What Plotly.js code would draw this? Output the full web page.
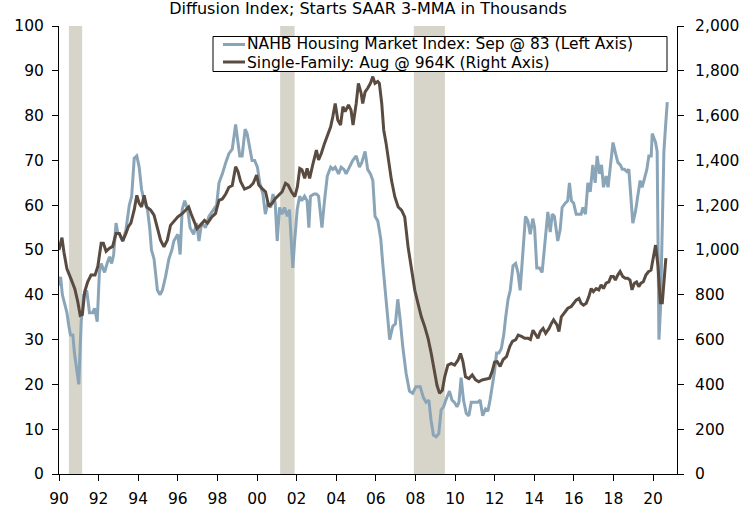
<!DOCTYPE html>
<html>
<head>
<meta charset="utf-8">
<script src="https://cdn.plot.ly/plotly-3.0.1.min.js"></script>
<style>
html,body{margin:0;padding:0;background:#fff;}
#chart{width:755px;height:508px;}
</style>
</head>
<body>
<div id="chart"></div>
<script>
// ---- DATA ----
// NAHB Housing Market Index (left axis), decimal-year positions
const nahbX = [1990.00,1990.08,1990.17,1990.30,1990.40,1990.50,1990.58,1990.70,1990.78,1990.92,1991.00,1991.12,1991.25,1991.40,1991.54,1991.70,1991.80,1991.93,
1992.04,1992.13,1992.30,1992.43,1992.55,1992.66,1992.76,1992.88,1992.96,1993.05,1993.22,1993.38,1993.55,1993.67,1993.80,1993.93,
1994.05,1994.17,1994.30,1994.47,1994.58,1994.67,1994.80,1994.97,1995.10,1995.22,1995.38,1995.55,1995.70,1995.80,
1996.00,1996.12,1996.22,1996.35,1996.50,1996.62,1996.80,1996.95,1997.07,1997.20,1997.40,1997.57,1997.80,1997.96,
1998.08,1998.25,1998.42,1998.58,1998.75,1998.92,1999.04,1999.13,1999.25,1999.40,1999.50,1999.63,1999.75,1999.88,
2000.02,2000.14,2000.30,2000.42,2000.55,2000.69,2000.81,2000.92,2001.02,2001.14,2001.26,2001.39,2001.53,2001.64,2001.81,2001.90,
2002.03,2002.15,2002.26,2002.40,2002.53,2002.62,2002.70,2002.88,2003.00,2003.11,2003.28,2003.41,2003.55,2003.72,2003.83,2003.95,
2004.12,2004.25,2004.39,2004.50,2004.67,2004.84,2005.01,2005.17,2005.29,2005.46,2005.59,2005.73,2005.85,2005.96,
2006.10,2006.25,2006.35,2006.44,2006.52,2006.61,2006.70,2006.86,2006.99,2007.11,2007.23,2007.36,2007.53,2007.70,2007.86,
2008.03,2008.24,2008.41,2008.54,2008.68,2008.79,2008.91,2009.05,2009.18,2009.30,2009.42,2009.58,2009.72,2009.85,2009.97,
2010.10,2010.20,2010.31,2010.43,2010.57,2010.70,2010.82,2010.98,2011.15,2011.27,2011.40,2011.54,2011.66,2011.77,2011.88,
2012.00,2012.10,2012.22,2012.34,2012.46,2012.56,2012.68,2012.79,2012.93,2013.06,2013.18,2013.29,2013.43,2013.56,2013.68,2013.80,2013.93,
2014.02,2014.13,2014.27,2014.40,2014.52,2014.69,2014.81,2014.91,2015.02,2015.19,2015.31,2015.41,2015.58,2015.69,2015.78,2015.88,2015.99,
2016.12,2016.26,2016.37,2016.46,2016.59,2016.71,2016.83,2016.96,2017.08,2017.18,2017.30,2017.40,2017.50,2017.63,2017.73,2017.83,2017.98,
2018.11,2018.23,2018.35,2018.45,2018.56,2018.68,2018.78,2018.90,2018.98,2019.11,2019.23,2019.35,2019.45,2019.57,2019.69,2019.79,2019.91,2019.96,
2020.04,2020.13,2020.21,2020.30,2020.38,2020.47,2020.55,2020.64,2020.72];
const nahbY = [42,44,40,38,36,33,31,31,27,22.5,20,34,40,41,36,36,37,34,
45,47,45,47,48.5,47,49,56,54,53.5,52,54.5,60,62,70.5,71,
68.5,63.5,61,59,55,50,48,41,40,41,44,48,50,52,
53.5,49,59,61,59,55,53.5,56,52,56,55,57.5,59,60,
65,67,69.5,71.5,72.5,78,74,71,71,77,76,73,70,70,
68.5,65,62.5,58,60.5,59.5,62.5,60.5,52,59.5,58,59.5,57.5,59,46,52,
59,62,61,62,61,55,62,62.5,62.5,62,55,61,66.5,68.5,68,68.5,
67,68.5,68,67,68.5,70,71,68.5,69.5,72,68,67,65.5,57.5,
56.5,52.5,47,43,40,34.5,30,33,33.5,39,34.5,28.5,22.5,18.5,18,
19.5,19.5,17,16,16.5,12,8.7,8.3,9,14.3,15,17,18.5,16.5,16,
15,16,21.5,16.5,13.5,13,16,16,16,16.5,13,14.5,14,16.5,19.5,
23,27,27,28,31,35,39,41,46.5,47,45,41,49,57.5,56.5,53.5,57,
55,46,46,45,51,58.5,54,58,57.5,52,54.5,59.5,60.5,61,65,61,60.5,
58,58,58,59.5,58,65,63,69,65,71,67,69,64,66.5,64,68,74,
71.5,69.5,69,68,68,67.5,68,60,56,58.5,62,65.5,64,66,68,71,71,76,
75,74,72,30,37,58,72,78,83];

// Single-family housing starts, SAAR 3-MMA, thousands (right axis)
const sfX = [1990.00,1990.08,1990.15,1990.25,1990.40,1990.60,1990.80,1990.95,1991.07,1991.18,1991.30,1991.45,1991.62,1991.82,1991.96,
1992.13,1992.24,1992.38,1992.55,1992.71,1992.88,1993.05,1993.22,1993.38,1993.50,1993.63,1993.80,1993.93,
1994.05,1994.17,1994.30,1994.43,1994.63,1994.80,1994.97,1995.13,1995.30,1995.47,1995.63,1995.80,
1996.00,1996.22,1996.38,1996.55,1996.67,1996.84,1996.97,1997.13,1997.35,1997.50,1997.72,1997.90,
1998.08,1998.25,1998.42,1998.58,1998.75,1998.92,1999.04,1999.17,1999.37,1999.64,1999.81,1999.98,
2000.09,2000.26,2000.43,2000.60,2000.76,2000.93,2001.10,2001.27,2001.44,2001.57,2001.74,2001.91,
2002.04,2002.16,2002.27,2002.41,2002.53,2002.66,2002.83,2003.00,2003.11,2003.25,2003.41,2003.58,2003.72,2003.83,2003.95,
2004.08,2004.22,2004.34,2004.45,2004.62,2004.75,2004.85,2005.01,2005.12,2005.26,2005.34,2005.46,2005.59,2005.73,2005.85,2005.96,
2006.10,2006.18,2006.30,2006.40,2006.52,2006.63,2006.79,2006.96,2007.13,2007.30,2007.46,2007.63,2007.80,2007.97,
2008.13,2008.30,2008.47,2008.64,2008.80,2008.97,2009.09,2009.22,2009.36,2009.48,2009.64,2009.81,2009.98,
2010.15,2010.28,2010.40,2010.53,2010.70,2010.87,2011.04,2011.20,2011.37,2011.54,2011.75,2011.87,2012.00,
2012.13,2012.28,2012.43,2012.60,2012.77,2012.90,2013.07,2013.19,2013.36,2013.52,2013.69,2013.81,2013.94,
2014.08,2014.19,2014.31,2014.45,2014.58,2014.75,2014.87,2014.98,2015.15,2015.25,2015.37,2015.54,2015.70,2015.87,2015.99,
2016.12,2016.26,2016.37,2016.49,2016.63,2016.76,2016.88,2016.99,2017.13,2017.26,2017.38,2017.50,2017.63,2017.77,2017.88,
2018.00,2018.10,2018.22,2018.34,2018.47,2018.60,2018.72,2018.84,2018.94,2019.06,2019.17,2019.28,2019.39,2019.51,2019.64,2019.78,2019.90,
2020.01,2020.13,2020.25,2020.37,2020.47,2020.56,2020.65];
const sfY = [1000,1030,1055,990,916,872,826,768,708,712,814,858,888,888,926,
1030,1030,994,1008,1016,1074,1074,1040,1074,1104,1120,1180,1244,
1208,1192,1244,1192,1178,1156,1104,1044,1014,1044,1110,1126,
1148,1162,1178,1192,1162,1120,1096,1110,1132,1120,1148,1162,
1222,1228,1250,1280,1288,1372,1350,1306,1272,1282,1298,1334,
1290,1274,1260,1194,1208,1230,1244,1260,1298,1290,1260,1238,
1282,1364,1358,1320,1364,1320,1386,1446,1402,1432,1476,1522,1550,1596,1654,
1580,1558,1640,1618,1648,1624,1558,1654,1744,1700,1654,1706,1722,1744,1774,1744,
1752,1744,1654,1536,1476,1402,1312,1238,1192,1178,1148,1014,910,820,
762,702,658,606,538,464,396,360,374,434,486,494,486,
508,538,502,434,426,442,420,412,420,424,428,456,500,
502,480,510,524,570,592,600,620,614,606,606,600,642,
620,606,636,650,628,650,672,688,666,636,702,724,740,748,762,
776,784,762,754,762,792,828,814,828,822,844,828,852,858,882,
882,866,888,904,882,874,874,866,822,852,858,836,852,858,888,904,910,
970,1022,930,765,765,865,964];

// Recessions (start, end)
const recStart = [1990.50, 2001.17, 2007.92];
const recEnd   = [1991.17, 2001.90, 2009.49];

// Tick labels
const xTickVals = [1990,1992,1994,1996,1998,2000,2002,2004,2006,2008,2010,2012,2014,2016,2018,2020];
const xTickText = ["90","92","94","96","98","00","02","04","06","08","10","12","14","16","18","20"];
const leftTicks = [0,10,20,30,40,50,60,70,80,90,100];
const rightTicks = [0,200,400,600,800,1000,1200,1400,1600,1800,2000];
const rightTickText = ["0","200","400","600","800","1,000","1,200","1,400","1,600","1,800","2,000"];

const seriesNames = ["NAHB Housing Market Index: Sep @ 83 (Left Axis)", "Single-Family: Aug @ 964K (Right Axis)"];
const titleText = "Diffusion Index; Starts SAAR 3-MMA in Thousands";

// ---- STYLE / LAYOUT ----
const W = 755, H = 508;
const M = {l:59, r:78, t:26, b:34};
const pw = W - M.l - M.r, ph = H - M.t - M.b;
const fx = x => (x - M.l) / pw;
const fy = y => (H - M.b - y) / ph;
const FONT = "DejaVu Sans, Verdana, sans-serif";
const BLUE = "#8aa5b8", BROWN = "#5a4b40", RECESS = "#d7d4c9";
const xRange = [1990, 1990 + pw / 19.8];

const traces = [
  {x: nahbX, y: nahbY, type: "scatter", mode: "lines", name: seriesNames[0],
   line: {color: BLUE, width: 3}, xaxis: "x", yaxis: "y", hoverinfo: "skip"},
  {x: sfX, y: sfY, type: "scatter", mode: "lines", name: seriesNames[1],
   line: {color: BROWN, width: 3}, xaxis: "x", yaxis: "y2", hoverinfo: "skip"}
];

const shapes = recStart.map((s, i) => ({
  type: "rect", xref: "x", yref: "paper", x0: s, x1: recEnd[i], y0: 0, y1: 1,
  fillcolor: RECESS, line: {width: 0}, layer: "below"
}));
// legend box & samples
shapes.push({type: "rect", xref: "paper", yref: "paper", x0: fx(213), x1: fx(667), y0: fy(71.5), y1: fy(36.5),
  fillcolor: "#ffffff", line: {color: "#000000", width: 1}, layer: "above"});
shapes.push({type: "line", xref: "paper", yref: "paper", x0: fx(223), x1: fx(245), y0: fy(44.5), y1: fy(44.5),
  line: {color: BLUE, width: 3}, layer: "above"});
shapes.push({type: "line", xref: "paper", yref: "paper", x0: fx(223), x1: fx(245), y0: fy(62), y1: fy(62),
  line: {color: BROWN, width: 3}, layer: "above"});

const legFont = {family: FONT, size: 15.5, color: "#000"};
const annotations = [
  {xref: "paper", yref: "paper", x: fx(245), y: fy(44), xanchor: "left", yanchor: "middle",
   text: seriesNames[0], showarrow: false, font: legFont},
  {xref: "paper", yref: "paper", x: fx(245), y: fy(62.5), xanchor: "left", yanchor: "middle",
   text: seriesNames[1], showarrow: false, font: legFont}
];

const tickFont = {family: FONT, size: 15.5, color: "#000"};
const common = {showgrid: false, zeroline: false, fixedrange: true};

const layout = {
  width: W, height: H,
  margin: {l: M.l, r: M.r, t: M.t, b: M.b, pad: 0},
  paper_bgcolor: "#ffffff", plot_bgcolor: "#ffffff",
  showlegend: false,
  font: {family: FONT, color: "#000"},
  title: {text: titleText, font: {family: FONT, size: 16, color: "#000"},
          xref: "paper", x: 0.5, xanchor: "center", yref: "container", y: 1 - 8 / H, yanchor: "middle"},
  xaxis: Object.assign({}, common, {range: xRange, tickmode: "array", tickvals: xTickVals, ticktext: xTickText,
    ticks: "outside", ticklen: 6, tickwidth: 1, tickcolor: "#000", showline: true, linecolor: "#000", linewidth: 1,
    tickfont: tickFont, ticklabelstandoff: 4}),
  xaxis2: Object.assign({}, common, {range: xRange, overlaying: "x", anchor: "y", side: "bottom", tickmode: "array",
    tickvals: xTickVals, ticks: "inside", ticklen: 5, tickwidth: 1, tickcolor: "#000", showticklabels: false, showline: false}),
  yaxis: Object.assign({}, common, {range: [0, 100], tickmode: "array", tickvals: leftTicks,
    ticks: "outside", ticklen: 6, tickwidth: 1, tickcolor: "#000", showline: true, linecolor: "#000", linewidth: 1,
    tickfont: tickFont, ticklabelstandoff: 5}),
  yaxis2: Object.assign({}, common, {range: [0, 2000], overlaying: "y", side: "right", anchor: "x", tickmode: "array",
    tickvals: rightTicks, ticktext: rightTickText, ticks: "outside", ticklen: 6, tickwidth: 1, tickcolor: "#000",
    showline: true, linecolor: "#000", linewidth: 1, tickfont: tickFont, ticklabelstandoff: 8}),
  yaxis3: Object.assign({}, common, {range: [0, 100], overlaying: "y", side: "left", anchor: "x", tickmode: "array",
    tickvals: leftTicks, ticks: "inside", ticklen: 5, tickwidth: 1, tickcolor: "#000", showticklabels: false, showline: false}),
  yaxis4: Object.assign({}, common, {range: [0, 2000], overlaying: "y", side: "right", anchor: "x", tickmode: "array",
    tickvals: rightTicks, ticks: "inside", ticklen: 5, tickwidth: 1, tickcolor: "#000", showticklabels: false, showline: false}),
  shapes: shapes,
  annotations: annotations
};

Plotly.newPlot("chart", traces, layout, {staticPlot: true, displayModeBar: false});
</script>
</body>
</html>
